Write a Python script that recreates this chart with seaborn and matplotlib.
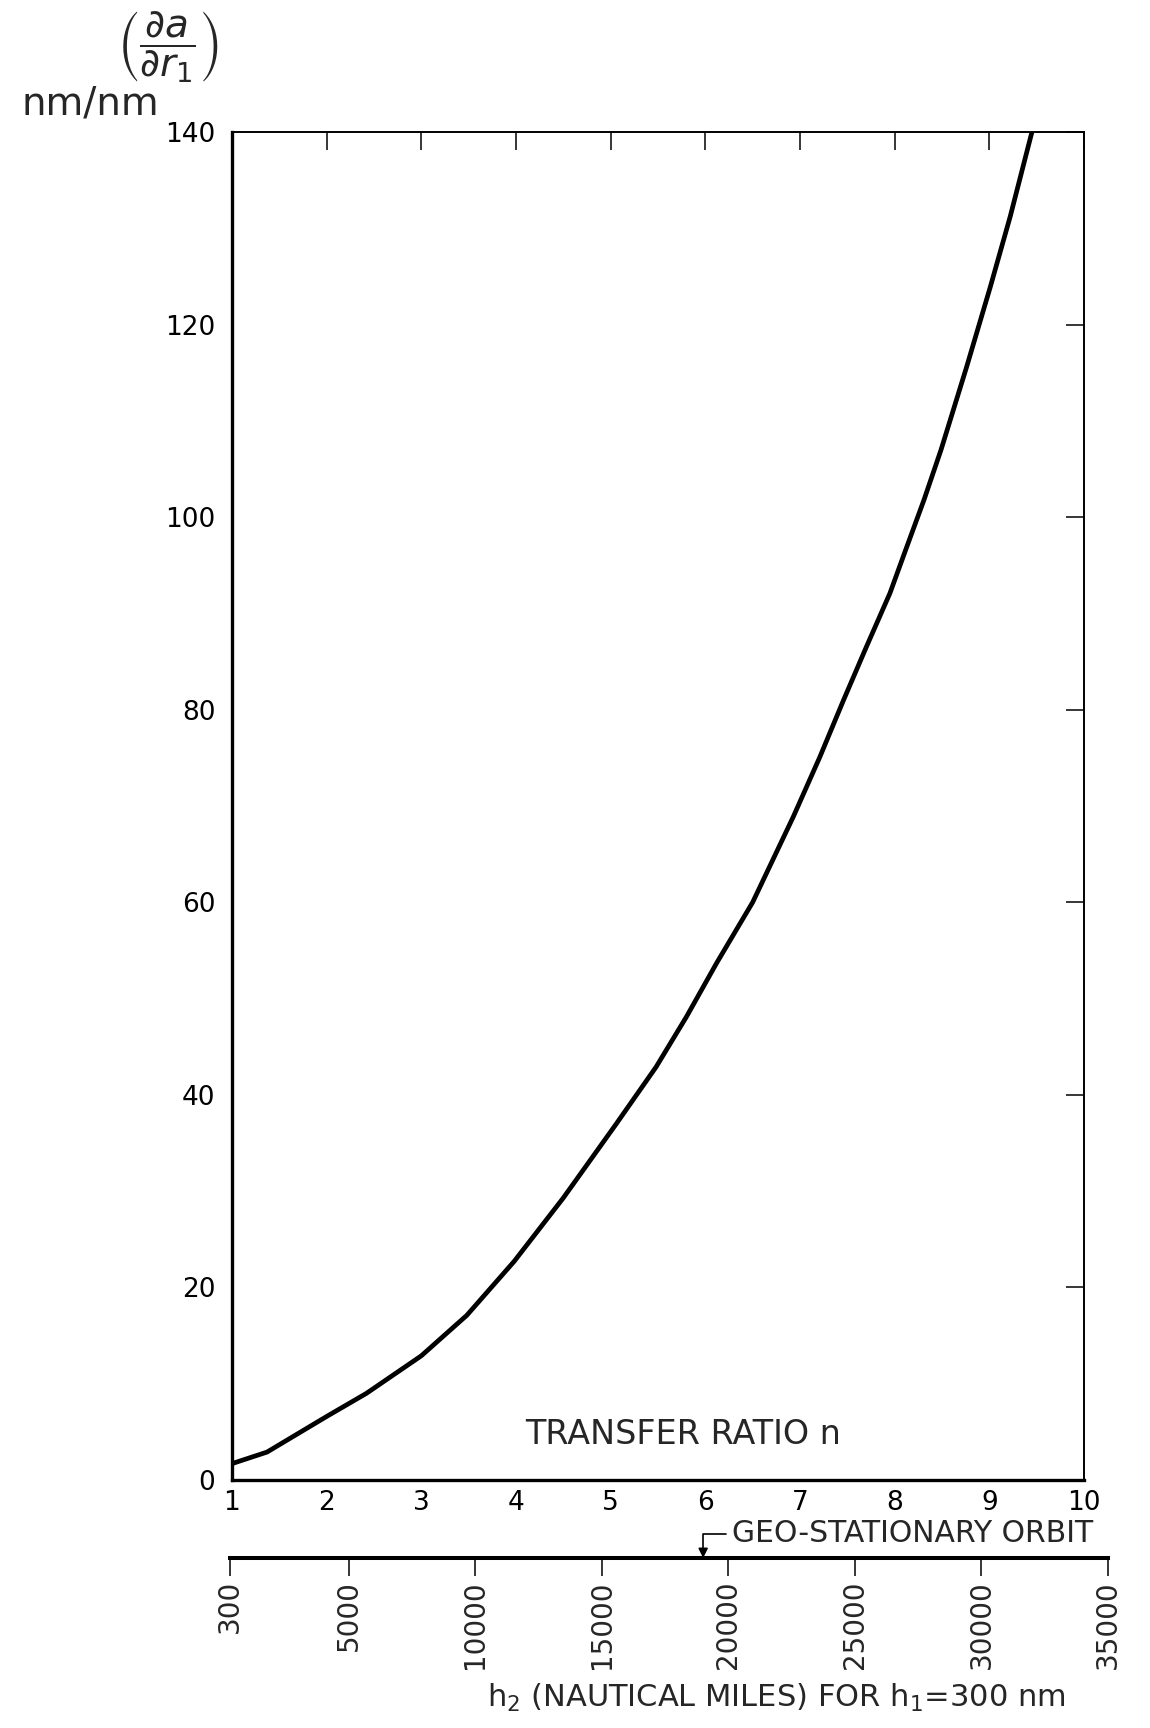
import matplotlib
matplotlib.use("Agg")
import matplotlib.pyplot as plt
import seaborn as sns
import pandas as pd

# ---- data ----
transfer_ratio = [1.0, 1.37, 2.0, 2.42, 3.0, 3.48, 3.98, 4.5, 5.06, 5.48, 5.80, 6.12,
                  6.50, 6.93, 7.21, 7.46, 7.70, 7.95, 8.12, 8.31, 8.49, 8.76, 9.01,
                  9.22, 9.45]
da_dr1 = [1.7, 2.9, 6.6, 9.0, 12.9, 17.1, 22.7, 29.3, 37.0, 42.9, 48.1, 53.7,
          60.0, 68.9, 75.1, 81.0, 86.5, 92.1, 96.7, 101.8, 107.0, 115.6, 123.9,
          131.2, 140.0]
x_ticks = [1, 2, 3, 4, 5, 6, 7, 8, 9, 10]
y_ticks = [0, 20, 40, 60, 80, 100, 120, 140]
h2_ticks = [300, 5000, 10000, 15000, 20000, 25000, 30000, 35000]
h2_range = [300, 35000]
geo_h2 = 19000

df = pd.DataFrame({"n": transfer_ratio, "v": da_dr1})

sns.set_style("white")
plt.rcParams["font.family"] = ["DejaVu Sans"]
plt.rcParams["mathtext.fontset"] = "dejavusans"

W, H = 1150, 1728
fig = plt.figure(figsize=(W / 100, H / 100), dpi=100)

# main axes
ax = fig.add_axes([232 / W, 1 - 1480 / H, (1084 - 232) / W, (1480 - 132) / H])
sns.lineplot(data=df, x="n", y="v", ax=ax, color="black", linewidth=3.4,
             estimator=None, sort=False)
ax.lines[0].set_solid_joinstyle("round")
ax.set_xlim(x_ticks[0], x_ticks[-1])
ax.set_ylim(y_ticks[0], y_ticks[-1])
ax.set_xticks(x_ticks)
ax.set_yticks(y_ticks)
ax.set_xlabel("")
ax.set_ylabel("")
ax.tick_params(axis="both", direction="in", length=13, width=1.1, color="black",
               top=True, right=True, labelsize=19, labelcolor="black")
ax.tick_params(axis="y", pad=12)
ax.tick_params(axis="x", pad=7)
for s in ["left", "bottom"]:
    ax.spines[s].set_linewidth(2.4)
for s in ["top", "right"]:
    ax.spines[s].set_linewidth(1.4)
for s in ax.spines.values():
    s.set_color("black")
ax.grid(False)

ax.text(5.76, 4.7, "TRANSFER RATIO n", fontsize=24, ha="center", va="center")

# y label
fig.text(168 / W, 1 - 47 / H, r"$\left(\dfrac{\partial a}{\partial r_1}\right)$",
         fontsize=28, ha="center", va="center")
fig.text(90 / W, 1 - 104 / H, "nm/nm", fontsize=28, ha="center", va="center")

# secondary (h2) axis
ax2 = fig.add_axes([230 / W, 1 - 1558 / H, (1108 - 230) / W, 0.0001])
ax2.set_xlim(h2_range)
ax2.set_xticks(h2_ticks)
ax2.set_xticklabels([str(t) for t in h2_ticks], rotation=90)
ax2.set_yticks([])
for s in ["top", "left", "right"]:
    ax2.spines[s].set_visible(False)
ax2.spines["bottom"].set_linewidth(2.9)
ax2.spines["bottom"].set_color("black")
ax2.patch.set_alpha(0)
ax2.tick_params(axis="x", direction="out", length=13, width=1.1, color="black",
                labelsize=20, pad=3, bottom=True)
ax2.annotate("GEO-STATIONARY ORBIT", xy=(geo_h2, 0), xycoords=("data", "axes fraction"),
             xytext=(732 / W, 1 - 1534 / H), textcoords="figure fraction",
             fontsize=21.5, ha="left", va="center",
             arrowprops=dict(arrowstyle="-|>", color="black", lw=1.2,
                             connectionstyle="angle,angleA=0,angleB=90,rad=0",
                             shrinkA=2, shrinkB=0, mutation_scale=14))

fig.text(776 / W, 1 - 1698 / H, r"h$_2$ (NAUTICAL MILES) FOR h$_1$=300 nm",
         fontsize=22, ha="center", va="center")

fig.savefig("out.png", dpi=100, facecolor="white")
